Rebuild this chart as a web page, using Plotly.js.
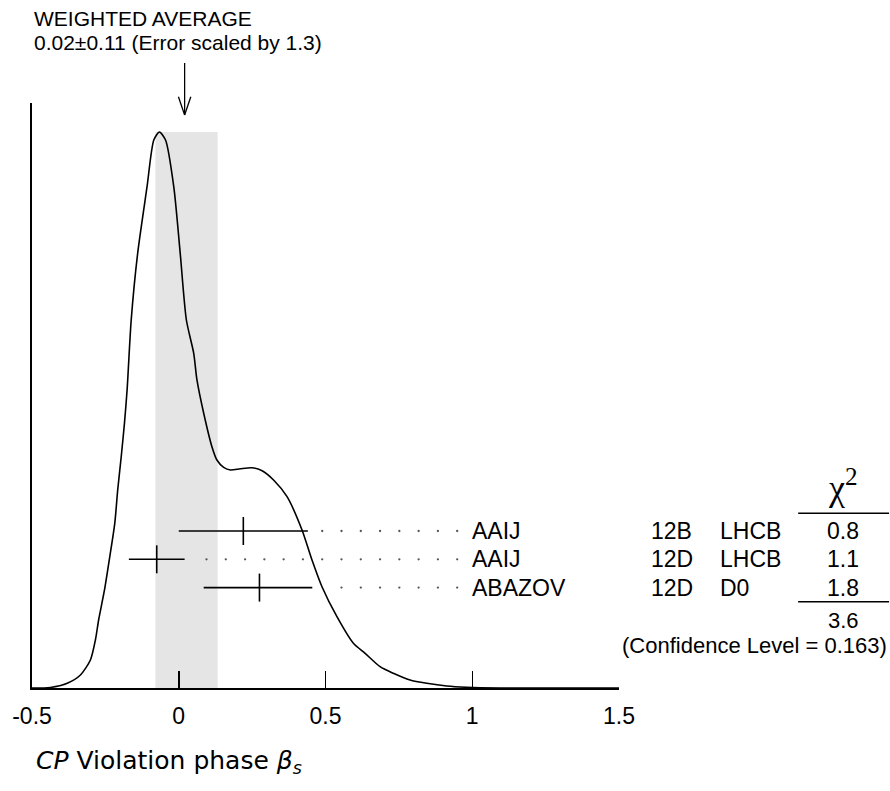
<!DOCTYPE html>
<html>
<head>
<meta charset="utf-8">
<script src="https://cdn.plot.ly/plotly-3.0.1.min.js"></script>
<style>html,body{margin:0;padding:0;background:#fff;}#chart{width:890px;height:791px;}</style>
</head>
<body>
<div id="chart"></div>
<script>
// ---- data ----
const xTicks = [-0.5, 0, 0.5, 1, 1.5];
const xTickText = ['-0.5', '0', '0.5', '1', '1.5'];

// ideogram curve (relative density, peak = 1)
const curveX = [-0.500, -0.437, -0.380, -0.335, -0.301, -0.284, -0.273, -0.253, -0.235, -0.218,
  -0.208, -0.196, -0.185, -0.176, -0.162, -0.140, -0.108, -0.085, -0.066, -0.045, -0.017,
  0.005, 0.026, 0.051, 0.062, 0.085, 0.113, 0.130, 0.153, 0.176, 0.210, 0.249, 0.284, 0.323,
  0.369, 0.420, 0.454, 0.488, 0.539, 0.595, 0.635, 0.686, 0.731, 0.788, 0.845, 0.913, 0.981,
  1.095, 1.500];
const curveY = [0.000, 0.001, 0.0085, 0.0234, 0.0504, 0.0863, 0.1223, 0.1763, 0.2362, 0.2962,
  0.3561, 0.4160, 0.4761, 0.5360, 0.6619, 0.7818, 0.9016, 0.9856, 1.000, 0.9856, 0.9016,
  0.7818, 0.6619, 0.6020, 0.5540, 0.4941, 0.4340, 0.4101, 0.3969, 0.3921, 0.3944, 0.3962, 0.3908, 0.3741,
  0.3441, 0.2842, 0.2302, 0.1822, 0.1282, 0.0804, 0.0624, 0.0383, 0.0264, 0.0144, 0.0085, 0.0036, 0.0013,
  0.000, 0.000];

// measurements
const names = ['AAIJ', 'AAIJ', 'ABAZOV'];
const docs = ['12B', '12D', '12D'];
const exps = ['LHCB', 'LHCB', 'D0'];
const vals = [0.22, -0.075, 0.275];
const errPlus = [0.22, 0.095, 0.18];
const errMinus = [0.22, 0.095, 0.19];
const chi2 = ['0.8', '1.1', '1.8'];
const chi2Sum = '3.6';
const confLevel = '0.163';
const rows = [1, 2, 3];

// weighted average
const avg = 0.0265;
const avgErr = 0.106;
const avgShown = 0.02;
const avgLabel = '0.02±0.11 (Error scaled by 1.3)';

// ---- layout helpers ----
const XR = [-0.5, 1.5];
const toPaper = v => (v - XR[0]) / (XR[1] - XR[0]);
const FONT = 'Liberation Sans, Arial, Helvetica, sans-serif';
const FS = 23;

// leader dots on a fixed grid
const dotStart = 0.0946, dotStep = 0.0657, dotN = 14, dotGap = 0.04;
const dotX = [], dotY = [];
rows.forEach((r, i) => {
  const end = vals[i] + errPlus[i];
  for (let k = 0; k < dotN; k++) {
    const x = dotStart + k * dotStep;
    if (x > end + dotGap) { dotX.push(x); dotY.push(r); }
  }
});

const traces = [
  {x: curveX, y: curveY, type: 'scatter', mode: 'lines',
   line: {color: '#000', width: 1.6, shape: 'spline', smoothing: 0.7},
   hoverinfo: 'skip', showlegend: false},
  {x: dotX, y: dotY, yaxis: 'y2', type: 'scatter', mode: 'markers',
   marker: {size: 2.3, color: '#555'}, hoverinfo: 'skip', showlegend: false},
  {x: vals, y: rows, yaxis: 'y2', type: 'scatter', mode: 'markers',
   marker: {symbol: 'line-ns', size: 20, line: {width: 1.6, color: '#000'}, color: '#000'},
   error_x: {type: 'data', symmetric: false, array: errPlus, arrayminus: errMinus,
             width: 0, thickness: 1.6, color: '#000'},
   hoverinfo: 'skip', showlegend: false}
];

const ann = [];
const addText = (text, x, y, xref, yref, xanchor, size, family) => ann.push({
  text: text, x: x, y: y, xref: xref, yref: yref, xanchor: xanchor, yanchor: 'middle',
  showarrow: false, borderpad: 0, font: {family: family || FONT, size: size || FS, color: '#000'}
});

addText('WEIGHTED AVERAGE', 0.0014, 1.1445, 'paper', 'paper', 'left', 21);
addText(avgLabel, 0.0014, 1.1035, 'paper', 'paper', 'left', 21);

rows.forEach((r, i) => {
  addText(names[i], 0.995, r, 'x', 'y2', 'left');
  addText(docs[i], 1.0528, r, 'paper', 'y2', 'left');
  addText(exps[i], 1.1707, r, 'paper', 'y2', 'left');
  addText(chi2[i], 1.3819, r, 'paper', 'y2', 'center');
});
addText(chi2Sum, 1.3819, 4.17, 'paper', 'y2', 'center', 22);
addText('(Confidence Level = ' + confLevel + ')', 1.459, 5.04, 'paper', 'y2', 'right', 22);
addText('χ<sup>2</sup>', 1.3819, -0.62, 'paper', 'y2', 'center', 36, 'Liberation Serif, serif');

addText('<i>CP</i> Violation phase <i>β</i><sub><i>s</i></sub>', 0.005, -0.126, 'paper', 'paper', 'left', 25,
        'DejaVu Sans, sans-serif');

const line = {color: '#000', width: 1.5};
const shapes = [
  // error-scaled band
  {type: 'rect', xref: 'x', yref: 'y', x0: avg - avgErr, x1: avg + avgErr, y0: 0, y1: 1.0,
   fillcolor: '#e5e5e5', line: {width: 0}, layer: 'below'},
  // arrow
  {type: 'line', xref: 'paper', yref: 'paper', xsizemode: 'pixel', ysizemode: 'pixel',
   xanchor: toPaper(avgShown), yanchor: 1, x0: 0, x1: 0, y0: 40, y1: -12, line: {color: '#000', width: 1.3}},
  {type: 'line', xref: 'paper', yref: 'paper', xsizemode: 'pixel', ysizemode: 'pixel',
   xanchor: toPaper(avgShown), yanchor: 1, x0: -6.2, x1: 0, y0: 6.3, y1: -12, line: {color: '#000', width: 1.3}},
  {type: 'line', xref: 'paper', yref: 'paper', xsizemode: 'pixel', ysizemode: 'pixel',
   xanchor: toPaper(avgShown), yanchor: 1, x0: 6.2, x1: 0, y0: 6.3, y1: -12, line: {color: '#000', width: 1.3}},
  // chi2 rules
  {type: 'line', xref: 'paper', yref: 'y2', x0: 1.3052, x1: 1.4601, y0: 0.375, y1: 0.375, line: line},
  {type: 'line', xref: 'paper', yref: 'y2', x0: 1.3052, x1: 1.4601, y0: 3.498, y1: 3.498, line: line}
];

const layout = {
  width: 890, height: 791,
  margin: {l: 31.5, r: 271.2, t: 103, b: 103, pad: 0},
  paper_bgcolor: '#fff', plot_bgcolor: '#fff',
  showlegend: false,
  xaxis: {range: XR, showgrid: false, zeroline: false, showline: true, linecolor: '#000', linewidth: 1.6,
          ticks: 'inside', ticklen: 17, tickwidth: 1.5, tickcolor: '#000',
          tickvals: xTicks, ticktext: xTickText, ticklabelstandoff: 7,
          tickfont: {family: FONT, size: FS, color: '#000'}, fixedrange: true},
  yaxis: {range: [0, 1.0522], showgrid: false, zeroline: false, showline: true, linecolor: '#000', linewidth: 1.6,
          showticklabels: false, ticks: '', fixedrange: true},
  yaxis2: {range: [6.548, -14.124], overlaying: 'y', showgrid: false, zeroline: false, showline: false,
           showticklabels: false, ticks: '', fixedrange: true},
  annotations: ann,
  shapes: shapes
};

Plotly.newPlot('chart', traces, layout, {staticPlot: true, displayModeBar: false}).then(gd => {
  // drop empty placeholder title texts
  gd.querySelectorAll('text').forEach(t => { if (!t.textContent.trim()) t.remove(); });
});
</script>
</body>
</html>
